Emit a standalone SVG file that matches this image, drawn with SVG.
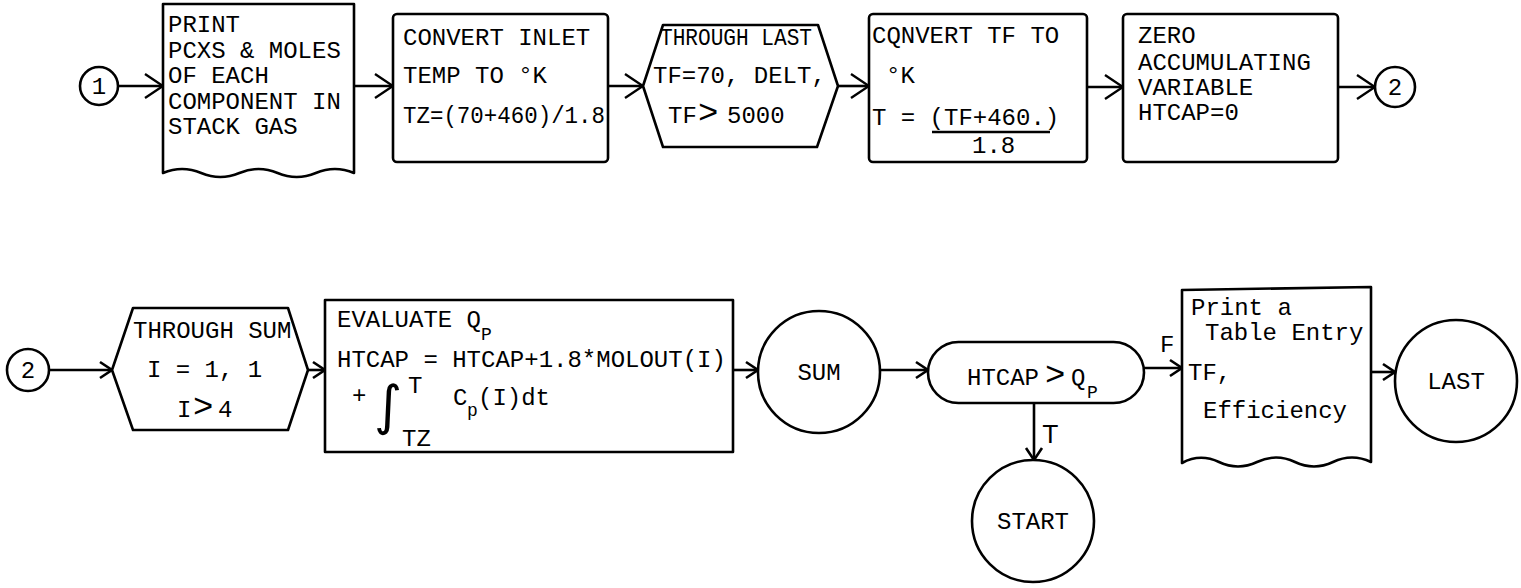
<svg xmlns="http://www.w3.org/2000/svg" width="1521" height="588" viewBox="0 0 1521 588">
<style>
.s{fill:#fff;stroke:#000;stroke-width:2.6;stroke-linejoin:round}
.t{font-family:"Liberation Mono","Courier New",monospace;font-size:24px;fill:#000}
.sub{font-size:18px}
.big{font-size:34px}
.c{text-anchor:middle}
.e{fill:none;stroke:#000;stroke-width:2.6}
.ea{marker-end:url(#A)}
.eb{marker-end:url(#B)}
</style>
<defs>
<marker id="A" markerUnits="userSpaceOnUse" markerWidth="22" markerHeight="28" viewBox="0 0 22 28" refX="20" refY="14" orient="auto"><path d="M2,2 L20,14 L2,26" fill="none" stroke="#000" stroke-width="2.4"/></marker>
<marker id="B" markerUnits="userSpaceOnUse" markerWidth="16" markerHeight="20" viewBox="0 0 16 20" refX="14" refY="10" orient="auto"><path d="M2,2 L14,10 L2,18" fill="none" stroke="#000" stroke-width="2.6"/></marker>
</defs>
<rect x="0" y="0" width="1521" height="588" fill="#fff"/>

<g id="connectors">
<line class="e ea" x1="118" y1="86" x2="163" y2="86"/>
<line class="e ea" x1="354" y1="86" x2="393" y2="86"/>
<line class="e ea" x1="608" y1="86" x2="643" y2="86"/>
<line class="e ea" x1="838" y1="86" x2="869" y2="86"/>
<line class="e ea" x1="1087" y1="87" x2="1123" y2="87"/>
<line class="e ea" x1="1338" y1="87" x2="1375" y2="87"/>
<line class="e eb" x1="49" y1="370" x2="112" y2="370"/>
<line class="e eb" x1="308" y1="370" x2="325" y2="370"/>
<line class="e eb" x1="733" y1="370" x2="758" y2="370"/>
<line class="e eb" x1="880" y1="370" x2="928" y2="370"/>
<line class="e eb" x1="1144" y1="368" x2="1182" y2="368"/>
<line class="e eb" x1="1034" y1="403" x2="1034" y2="460"/>
<line class="e eb" x1="1371" y1="372" x2="1395" y2="372"/>
<text class="t" x="1160" y="352">F</text>
<text class="t" x="1043" y="443" style="font-family:'DejaVu Sans',sans-serif">T</text>
</g>

<g id="c1">
<circle class="s" cx="99" cy="86" r="19"/>
<text class="t c" x="99" y="94">1</text>
</g>

<g id="print1">
<path class="s" d="M163,4 H354 V173 q-19.1,-8 -38.2,0 t-38.2,0 t-38.2,0 t-38.2,0 t-38.2,0 Z"/>
<text class="t" x="168" y="32">PRINT</text>
<text class="t" x="168" y="58">PCXS &amp; MOLES</text>
<text class="t" x="168" y="83">OF EACH</text>
<text class="t" x="168" y="109">COMPONENT IN</text>
<text class="t" x="168" y="134">STACK GAS</text>
</g>

<g id="convert1">
<rect class="s" x="393" y="14" width="215" height="148" rx="4"/>
<text class="t" x="403" y="45">CONVERT INLET</text>
<text class="t" x="403" y="83">TEMP TO °K</text>
<text class="t" x="403" y="123" textLength="202" lengthAdjust="spacingAndGlyphs">TZ=(70+460)/1.8</text>
</g>

<g id="loop1">
<polygon class="s" points="643,86 663,25 818,25 838,86 817,147 663,147"/>
<text class="t" x="660" y="45" textLength="152" lengthAdjust="spacingAndGlyphs">THROUGH LAST</text>
<text class="t" x="653" y="83">TF=70, DELT,</text>
<text class="t" y="123"><tspan x="668">TF</tspan><tspan class="big" x="698">&gt;</tspan><tspan x="727">5000</tspan></text>
</g>

<g id="convert2">
<rect class="s" x="869" y="14" width="218" height="148" rx="4"/>
<text class="t" x="872" y="43">CQNVERT TF TO</text>
<text class="t" x="886" y="83">°K</text>
<text class="t" x="872" y="125">T = (TF+460.)</text>
<line class="e" x1="932" y1="132" x2="1050" y2="132"/>
<text class="t" x="972" y="153">1.8</text>
</g>

<g id="zero">
<rect class="s" x="1123" y="14" width="215" height="148" rx="4"/>
<text class="t" x="1138" y="43">ZERO</text>
<text class="t" x="1138" y="70">ACCUMULATING</text>
<text class="t" x="1138" y="95">VARIABLE</text>
<text class="t" x="1138" y="120">HTCAP=0</text>
</g>

<g id="c2a">
<circle class="s" cx="1395" cy="87" r="20"/>
<text class="t c" x="1395" y="95">2</text>
</g>

<g id="c2b">
<circle class="s" cx="28" cy="370" r="21"/>
<text class="t c" x="28" y="378">2</text>
</g>

<g id="loop2">
<polygon class="s" points="112,370 133,308 288,308 308,370 288,430 133,430"/>
<text class="t" x="133" y="338">THROUGH SUM</text>
<text class="t" x="147" y="377">I = 1, 1</text>
<text class="t" y="417"><tspan x="177">I</tspan><tspan class="big" x="193">&gt;</tspan><tspan x="218">4</tspan></text>
</g>

<g id="evaluate">
<rect class="s" x="325" y="300" width="408" height="152"/>
<text class="t" x="337" y="327">EVALUATE Q<tspan class="sub" x="481" y="340">P</tspan></text>
<text class="t" x="337" y="367">HTCAP = HTCAP+1.8*MOLOUT(I)</text>
<text class="t" x="352" y="403">+</text>
<text x="374" y="424" style="font-family:'DejaVu Sans',sans-serif;font-size:54px">∫</text>
<text class="t" x="408" y="393">T</text>
<text class="t" x="402" y="446">TZ</text>
<text class="t" x="453" y="405">C<tspan class="sub" x="467" y="416">p</tspan><tspan x="478" y="405">(I)dt</tspan></text>
</g>

<g id="sum">
<circle class="s" cx="819" cy="372" r="61"/>
<text class="t c" x="819" y="380">SUM</text>
</g>

<g id="test">
<rect class="s" x="928" y="342" width="216" height="61" rx="30.5"/>
<text class="t" y="385"><tspan x="967">HTCAP</tspan><tspan class="big" x="1045">&gt;</tspan><tspan x="1071">Q</tspan><tspan class="sub" x="1087" y="398">P</tspan></text>
</g>

<g id="start">
<circle class="s" cx="1033" cy="521" r="61"/>
<text class="t c" x="1033" y="529">START</text>
</g>

<g id="print2">
<path class="s" d="M1182,290 L1371,287 V462 q-19,-9 -38,0 t-38,0 t-38,0 t-38,0 t-37,1 Z"/>
<text class="t" x="1191" y="315">Print a</text>
<text class="t" x="1205" y="340">Table Entry</text>
<text class="t" x="1188" y="380">TF,</text>
<text class="t" x="1203" y="418">Efficiency</text>
</g>

<g id="last">
<circle class="s" cx="1456" cy="381" r="61"/>
<text class="t c" x="1456" y="389">LAST</text>
</g>
</svg>
